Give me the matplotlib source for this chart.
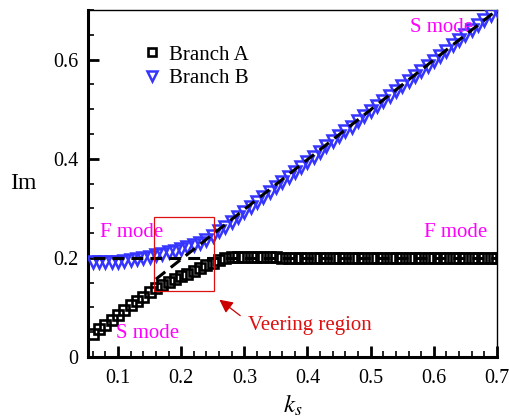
import matplotlib
matplotlib.use("Agg")
import matplotlib.pyplot as plt
from matplotlib.patches import Rectangle
from matplotlib.ticker import MultipleLocator

plt.rcParams['font.family'] = ['Liberation Serif', 'DejaVu Serif']
plt.rcParams['mathtext.fontset'] = 'stix'

# wavenumber grid
ks = [0.06, 0.07, 0.08, 0.09, 0.10, 0.11, 0.12, 0.13, 0.14, 0.15,
      0.16, 0.17, 0.18, 0.19, 0.20, 0.21, 0.22, 0.23, 0.24, 0.25,
      0.26, 0.27, 0.28, 0.29, 0.30, 0.31, 0.32, 0.33, 0.34, 0.35,
      0.36, 0.37, 0.38, 0.39, 0.40, 0.41, 0.42, 0.43, 0.44, 0.45,
      0.46, 0.47, 0.48, 0.49, 0.50, 0.51, 0.52, 0.53, 0.54, 0.55,
      0.56, 0.57, 0.58, 0.59, 0.60, 0.61, 0.62, 0.63, 0.64, 0.65,
      0.66, 0.67, 0.68, 0.69, 0.70]

branch_a = [0.047, 0.056, 0.065, 0.074, 0.084, 0.094, 0.104, 0.113, 0.122, 0.131,
            0.139, 0.146, 0.152, 0.158, 0.163, 0.168, 0.174, 0.179, 0.185, 0.190,
            0.195, 0.199, 0.201, 0.202, 0.202, 0.202, 0.202, 0.201, 0.201, 0.201,
            0.200, 0.200, 0.200, 0.200, 0.200, 0.200, 0.200, 0.200, 0.200, 0.200,
            0.200, 0.200, 0.200, 0.200, 0.200, 0.199, 0.199, 0.199, 0.199, 0.199,
            0.199, 0.199, 0.199, 0.199, 0.199, 0.199, 0.199, 0.199, 0.199, 0.199,
            0.199, 0.199, 0.199, 0.199, 0.199]

branch_b = [0.192, 0.191, 0.191, 0.191, 0.192, 0.193, 0.195, 0.197, 0.199, 0.202,
            0.205, 0.208, 0.211, 0.214, 0.218, 0.222, 0.226, 0.231, 0.237, 0.245,
            0.254, 0.263, 0.273, 0.283, 0.293, 0.303, 0.313, 0.323, 0.333, 0.343,
            0.353, 0.364, 0.374, 0.384, 0.394, 0.404, 0.414, 0.425, 0.435, 0.445,
            0.455, 0.465, 0.476, 0.486, 0.496, 0.506, 0.516, 0.527, 0.537, 0.547,
            0.557, 0.567, 0.578, 0.588, 0.598, 0.608, 0.618, 0.629, 0.639, 0.649,
            0.659, 0.669, 0.680, 0.690, 0.700]

# uncoupled F and S mode asymptotes (dashed)
f_ks = [0.06, 0.70]
f_im = [0.20, 0.20]
s_ks = [0.16, 0.70]
s_im = [0.157, 0.70]

# veering box: (ks0, im0, width, height)
veer_box = (0.157, 0.133, 0.095, 0.150)

magenta = '#ff00ff'
red = '#dd1111'
blue = '#3535ff'

fig = plt.figure(figsize=(5.09, 4.19), dpi=100)
ax = fig.add_axes([0.1729, 0.148, 0.8035, 0.828])

ax.plot(ks, branch_a, linestyle='none', marker='s', ms=7, mew=1.9,
        mfc='none', mec='black', label='Branch A', zorder=3)
ax.plot(ks, branch_b, linestyle='none', marker='v', ms=8.5, mew=1.8,
        mfc='none', mec=blue, label='Branch B', zorder=3)

ax.plot(f_ks, f_im, color='black', lw=2.2, dashes=(3.9, 2.3), zorder=4)
ax.plot(s_ks, s_im, color='black', lw=2.2, dashes=(3.9, 2.3), zorder=4)

ax.add_patch(Rectangle(veer_box[:2], veer_box[2], veer_box[3],
                       fill=False, edgecolor=red, lw=0.9, zorder=5))
ax.annotate('', xy=(0.257, 0.119), xytext=(0.297, 0.080),
            arrowprops=dict(arrowstyle='-|>', color='#cc0000', lw=0.9,
                            mutation_scale=20))
ax.text(0.306, 0.064, 'Veering region', color=red, fontsize=15,
        ha='left', va='center')

ax.text(0.562, 0.665, 'S mode', color=magenta, fontsize=15, ha='left', va='center')
ax.text(0.0714, 0.251, 'F mode', color=magenta, fontsize=15, ha='left', va='center')
ax.text(0.584, 0.251, 'F mode', color=magenta, fontsize=15, ha='left', va='center')
ax.text(0.0968, 0.048, 'S mode', color=magenta, fontsize=15, ha='left', va='center')

ax.set_xlim(0.0525, 0.70)
ax.set_ylim(0.0, 0.70)

ax.xaxis.set_minor_locator(MultipleLocator(0.02))
ax.yaxis.set_minor_locator(MultipleLocator(0.05))
ax.set_yticks([0, 0.2, 0.4, 0.6])
ax.set_yticklabels(['0', '0.2', '0.4', '0.6'])
ax.set_xticks([0.1, 0.2, 0.3, 0.4, 0.5, 0.6, 0.7])
ax.set_xticklabels(['0.1', '0.2', '0.3', '0.4', '0.5', '0.6', '0.7'])

ax.tick_params(which='both', direction='in', top=False, right=False,
               labelsize=14.5)
ax.tick_params(which='major', length=8, width=2.0)
ax.tick_params(which='minor', length=4, width=1.2)
ax.tick_params(axis='x', which='major', pad=9)
ax.tick_params(axis='y', which='major', pad=7)

for side in ('left', 'bottom'):
    ax.spines[side].set_linewidth(2.2)
for side in ('top', 'right'):
    ax.spines[side].set_linewidth(1.0)

ax.set_ylabel('Im', fontsize=17, rotation=0, ha='center', va='center')
ax.yaxis.set_label_coords(-0.159, 0.5)
ax.set_xlabel('$k_s$', fontsize=18, va='center')
ax.xaxis.set_label_coords(0.5, -0.138)

ax.legend(loc='upper left', bbox_to_anchor=(0.132, 0.899), frameon=False,
          fontsize=15, numpoints=1, handlelength=1.0, handletextpad=0.3,
          labelspacing=0.2, borderpad=0, borderaxespad=0, markerscale=0.85)

fig.savefig('out.png', dpi=100)
